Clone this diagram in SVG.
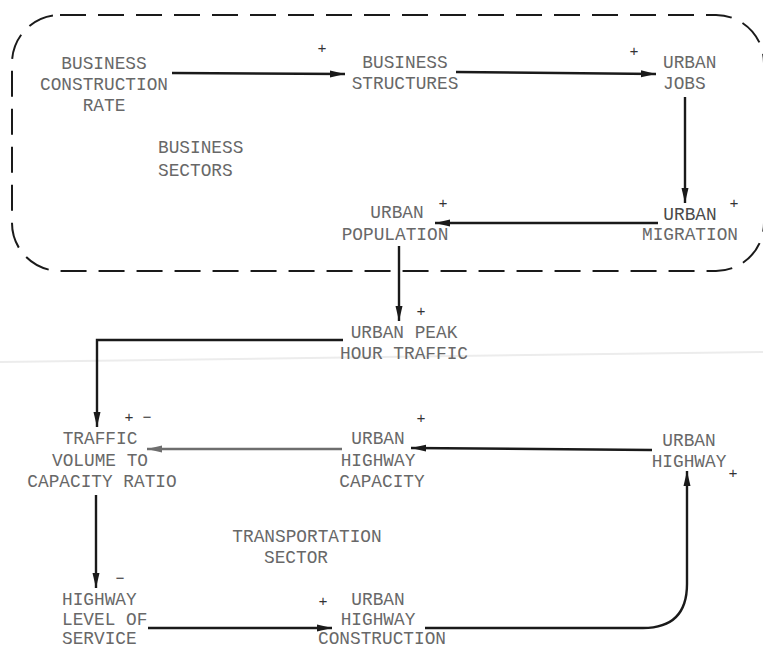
<svg xmlns="http://www.w3.org/2000/svg" width="763" height="649" viewBox="0 0 763 649">
<style>
text{font-family:"Liberation Mono","DejaVu Sans Mono",monospace;font-size:17.8px;fill:#686868;text-anchor:middle}
.l{text-anchor:start}
.s{font-size:15px;fill:#333}
.c{fill:none;stroke:#1a1a1a;stroke-width:2.4}
.g{stroke:#6e6e6e}
</style>
<defs>
<marker id="a" markerUnits="userSpaceOnUse" markerWidth="16" markerHeight="10" refX="15" refY="5" orient="auto">
<path d="M0,1.5 L15,5 L0,8.5 Z" fill="#1a1a1a"/>
</marker>
<marker id="ag" markerUnits="userSpaceOnUse" markerWidth="16" markerHeight="10" refX="15" refY="5" orient="auto">
<path d="M0,1.5 L15,5 L0,8.5 Z" fill="#6e6e6e"/>
</marker>
</defs>
<rect width="763" height="649" fill="#fff"/>
<line x1="0" y1="362" x2="763" y2="352" stroke="#ececec" stroke-width="2"/>
<rect id="business-sector" x="12" y="15" width="752" height="256" rx="48" ry="48" fill="none" stroke="#1a1a1a" stroke-width="2" stroke-dasharray="26 12"/>
<g id="connectors">
<path class="c" d="M172,73 L345,74" marker-end="url(#a)"/>
<path class="c" d="M456,72 L656,74" marker-end="url(#a)"/>
<path class="c" d="M685,97 L685,203" marker-end="url(#a)"/>
<path class="c" d="M658,223 L435,223" marker-end="url(#a)"/>
<path class="c" d="M399,246 L399,321" marker-end="url(#a)"/>
<path class="c" d="M343,340 L97,340 L97,427" marker-end="url(#a)"/>
<path class="c g" d="M342,449 L147,449" marker-end="url(#ag)"/>
<path class="c" d="M652,450 L411,448" marker-end="url(#a)"/>
<path class="c" d="M96,495 L96,588" marker-end="url(#a)"/>
<path class="c" d="M148,628 L332,628" marker-end="url(#a)"/>
<path class="c" d="M425,628 L643,628 Q687,628 687,584 L687,471" marker-end="url(#a)"/>
</g>
<g id="polarities">
<text class="s" x="322" y="53">+</text>
<text class="s" x="634" y="56">+</text>
<text class="s" x="443" y="208">+</text>
<text class="s" x="734" y="208">+</text>
<text class="s" x="421" y="316">+</text>
<text class="s" x="129" y="422">+</text>
<text class="s" x="147" y="422">−</text>
<text class="s" x="421" y="423">+</text>
<text class="s" x="733" y="478">+</text>
<text class="s" x="120" y="583">−</text>
<text class="s" x="323" y="606">+</text>
</g>
<g id="business-construction-rate">
<text x="104" y="69">BUSINESS</text>
<text x="104" y="90">CONSTRUCTION</text>
<text x="104" y="111">RATE</text>
</g>
<g id="business-sectors-label">
<text class="l" x="158" y="153">BUSINESS</text>
<text class="l" x="158" y="176">SECTORS</text>
</g>
<g id="business-structures">
<text x="405" y="68">BUSINESS</text>
<text x="405" y="89">STRUCTURES</text>
</g>
<g id="urban-jobs">
<text class="l" x="663" y="68">URBAN</text>
<text class="l" x="663" y="89">JOBS</text>
</g>
<g id="urban-migration">
<text x="690" y="220" style="fill:#4a4a4a">URBAN</text>
<text x="690" y="240">MIGRATION</text>
</g>
<g id="urban-population">
<text x="397" y="218">URBAN</text>
<text x="395" y="240">POPULATION</text>
</g>
<g id="urban-peak-hour-traffic">
<text x="404" y="338">URBAN PEAK</text>
<text x="404" y="359">HOUR TRAFFIC</text>
</g>
<g id="traffic-volume-capacity-ratio">
<text x="100" y="444">TRAFFIC</text>
<text x="100" y="466">VOLUME TO</text>
<text x="102" y="487">CAPACITY RATIO</text>
</g>
<g id="urban-highway-capacity">
<text x="378" y="444">URBAN</text>
<text x="378" y="466">HIGHWAY</text>
<text x="382" y="487">CAPACITY</text>
</g>
<g id="urban-highway">
<text x="689" y="446">URBAN</text>
<text x="689" y="467">HIGHWAY</text>
</g>
<g id="transportation-sector-label">
<text x="307" y="542">TRANSPORTATION</text>
<text x="296" y="563">SECTOR</text>
</g>
<g id="highway-level-of-service">
<text class="l" x="62" y="605">HIGHWAY</text>
<text class="l" x="62" y="625">LEVEL OF</text>
<text class="l" x="62" y="644">SERVICE</text>
</g>
<g id="urban-highway-construction">
<text x="378" y="605">URBAN</text>
<text x="378" y="625">HIGHWAY</text>
<text x="382" y="644">CONSTRUCTION</text>
</g>
</svg>
